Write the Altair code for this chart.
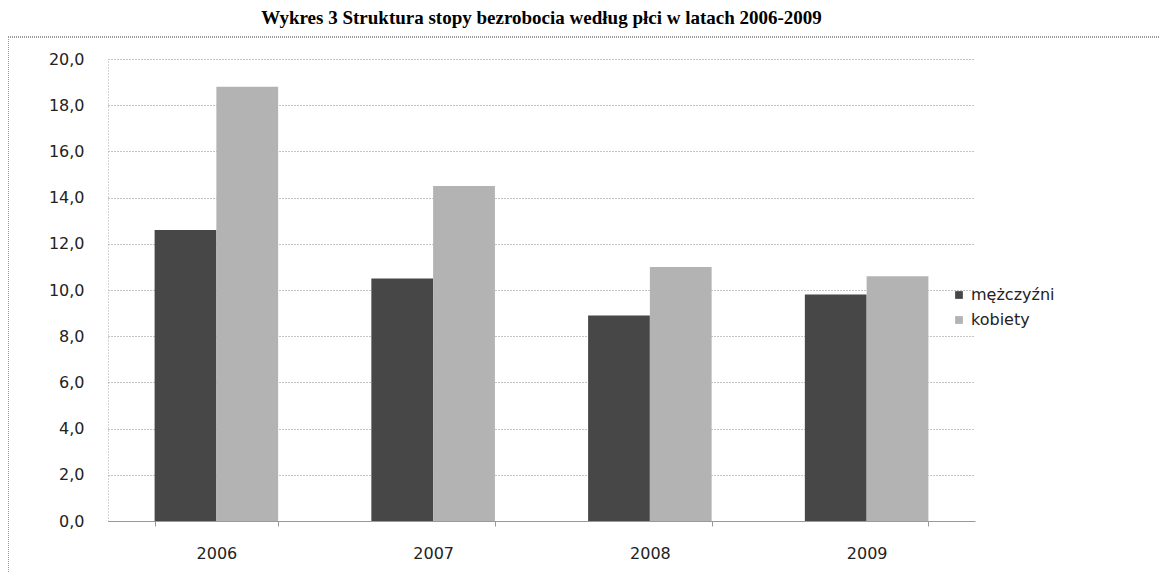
import altair as alt
import pandas as pd

years = ["2006", "2007", "2008", "2009"]
men = [12.6, 10.5, 8.9, 9.8]
women = [18.8, 14.5, 11.0, 10.6]
series = ["mężczyźni", "kobiety"]
colors = ["#474747", "#b3b3b3"]

rows = []
for y, m, w in zip(years, men, women):
    rows.append({"rok": y, "plec": series[0], "v": m})
    rows.append({"rok": y, "plec": series[1], "v": w})
df = pd.DataFrame(rows)

W, H = 867, 462

bars = alt.Chart(df).mark_bar().encode(
    x=alt.X("rok:N", sort=years, title=None,
            scale=alt.Scale(paddingInner=0.43, paddingOuter=0.215),
            axis=alt.Axis(labelAngle=0, labelFont="DejaVu Sans", labelFontSize=16,
                          labelColor="#222", labelPadding=19, domainColor="#999",
                          tickColor="#999", tickSize=5, tickBand="extent", grid=False)),
    xOffset=alt.XOffset("plec:N", sort=series),
    y=alt.Y("v:Q", title=None,
            scale=alt.Scale(domain=[0, 20], nice=False),
            axis=alt.Axis(values=list(range(0, 21, 2)),
                          labelExpr="replace(format(datum.value, '.1f'), '.', ',')",
                          labelFont="DejaVu Sans", labelFontSize=16, labelColor="#222",
                          labelPadding=24, domain=True, domainColor="#aaa",
                          domainDash=[1, 2], ticks=False,
                          grid=True, gridColor="#8a8a8a", gridDash=[1, 2], gridWidth=1)),
    color=alt.Color("plec:N", sort=series,
                    scale=alt.Scale(domain=series, range=colors),
                    legend=alt.Legend(title=None, orient="none", legendX=843, legendY=228,
                                      symbolType="square", symbolSize=60, symbolStrokeWidth=0,
                                      labelFont="DejaVu Sans", labelFontSize=16,
                                      labelColor="#222", rowPadding=9)),
)

frame_top = alt.Chart(df).mark_rule(color="#999", strokeDash=[1, 1]).encode(
    x=alt.value(-100), x2=alt.value(1052), y=alt.value(-22))
frame_left = alt.Chart(df).mark_rule(color="#999", strokeDash=[1, 1]).encode(
    x=alt.value(-100), y=alt.value(-22), y2=alt.value(524))

chart = alt.layer(frame_top, frame_left, bars).properties(
    width=W, height=H,
    title=alt.TitleParams("Wykres 3 Struktura stopy bezrobocia według płci w latach 2006-2009",
                          font="Liberation Serif", fontSize=19, fontWeight="bold",
                          color="#000", anchor="middle", offset=9),
    autosize=alt.AutoSizeParams(type="none"),
    padding={"left": 100, "top": 51, "right": 185, "bottom": 52},
).configure(background="white").configure_view(stroke=None)

chart.save("out.html", embed_options={"renderer": "svg", "actions": False})
